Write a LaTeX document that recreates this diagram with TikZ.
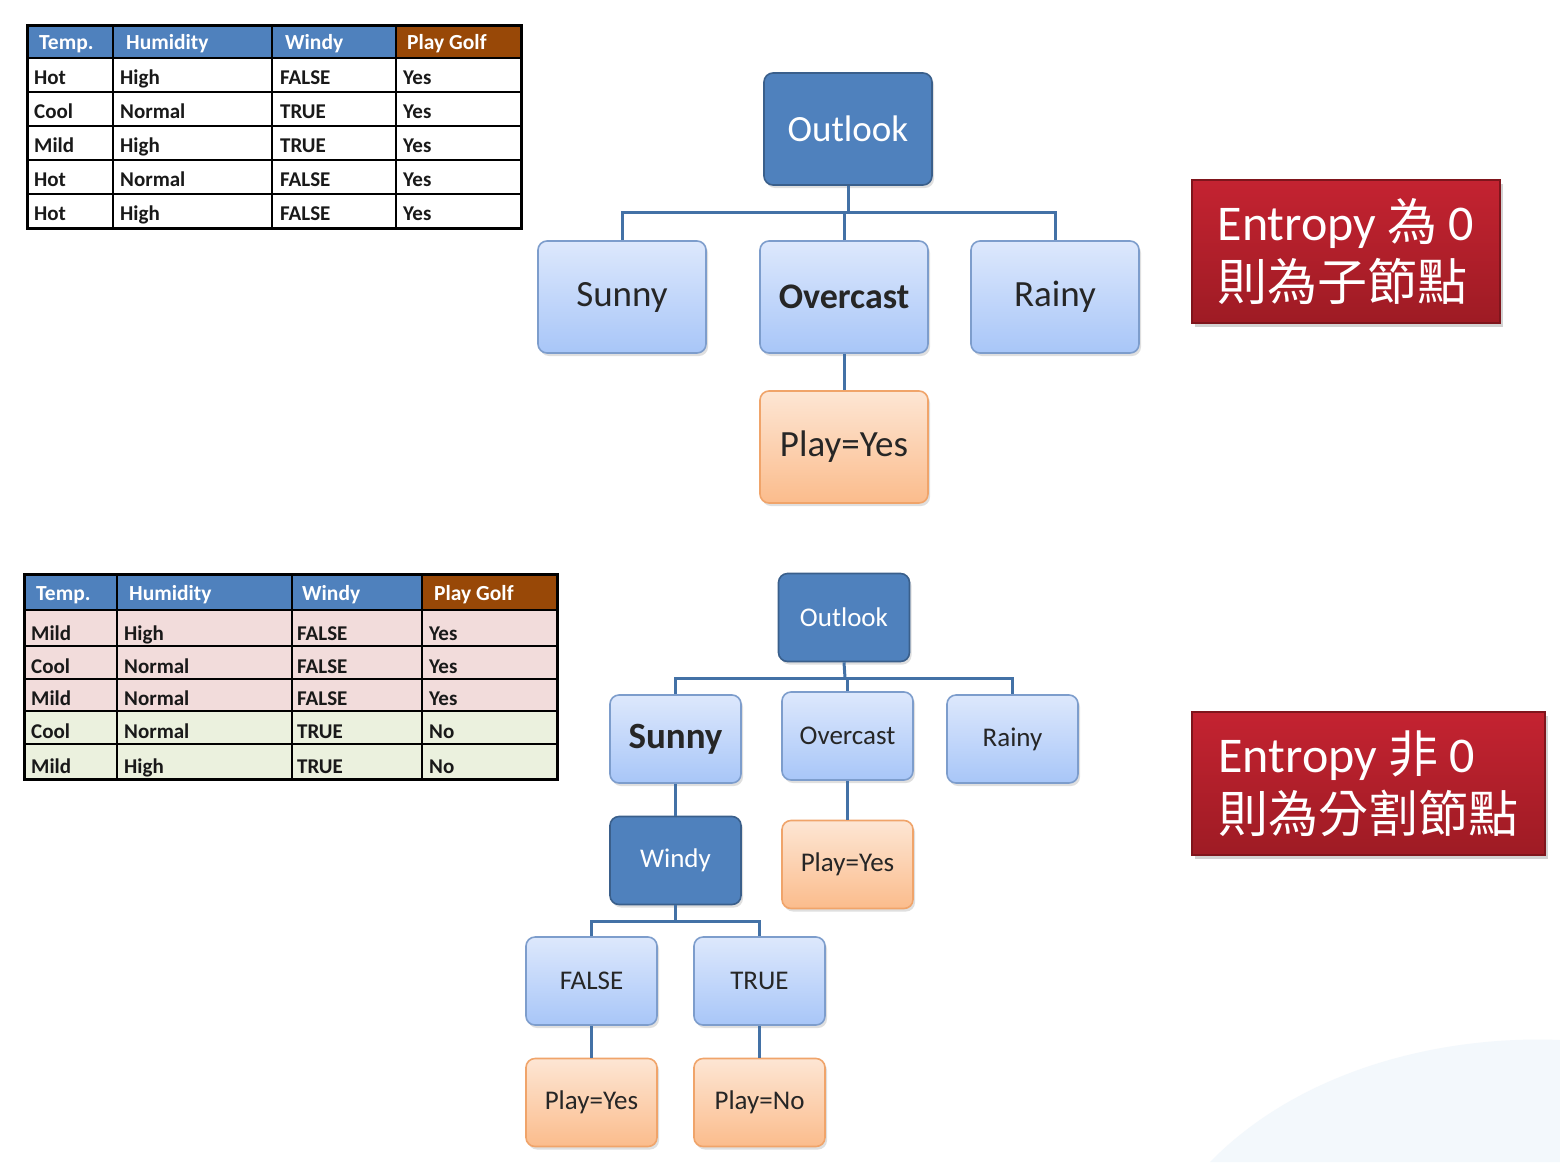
\documentclass[tikz,border=0pt]{standalone}
\usepackage{fontspec}
\setmainfont{Carlito}
\newfontfamily\cjk{Noto Sans CJK TC}
\usetikzlibrary{shadows,calc}
\definecolor{hdrblue}{HTML}{4F81BD}
\definecolor{hdrbrown}{HTML}{984807}
\definecolor{pinkrow}{HTML}{F2DCDB}
\definecolor{greenrow}{HTML}{EBF1DE}
\definecolor{darkfill}{HTML}{4F81BD}
\definecolor{darkedge}{HTML}{3A5F8B}
\definecolor{lighttop}{HTML}{DDE8FC}
\definecolor{lightbot}{HTML}{A8C6F8}
\definecolor{lightedge}{HTML}{7D9DCC}
\definecolor{orangetop}{HTML}{FDE6D4}
\definecolor{orangebot}{HTML}{FBBC8C}
\definecolor{orangeedge}{HTML}{F0A46A}
\definecolor{redtop}{HTML}{C42331}
\definecolor{redbot}{HTML}{9E1B24}
\definecolor{rededge}{HTML}{7F151C}
\definecolor{conncol}{HTML}{4371A6}
\definecolor{bgblue}{HTML}{F3F8FC}
\begin{document}
\begin{tikzpicture}[x=1pt,y=-1pt,
  boxbase/.style={rounded corners=9pt, line width=1.6pt, align=center,
    drop shadow={opacity=0.25, shadow xshift=2pt, shadow yshift=-3pt}},
  darkbox/.style={boxbase, fill=darkfill, draw=darkedge, text=white},
  lightbox/.style={boxbase, top color=lighttop, bottom color=lightbot, draw=lightedge, text=black!85},
  orangebox/.style={boxbase, top color=orangetop, bottom color=orangebot, draw=orangeedge, text=black!85},
  redbox/.style={line width=1.2pt, top color=redtop, bottom color=redbot, draw=rededge, text=white, align=left,
    drop shadow={opacity=0.35, shadow xshift=3pt, shadow yshift=-4pt},
    font=\fontsize{50}{60}\selectfont},
  bigsize/.style={minimum width=168, minimum height=112, font=\fontsize{37}{44}\selectfont},
  smallsize/.style={minimum width=131, minimum height=88, font=\fontsize{27}{32}\selectfont},
  conn/.style={draw=conncol, line width=3pt},
  tblline/.style={draw=black, line width=2.4pt},
  hdrtext/.style={anchor=base west, inner sep=0pt, text=white, font=\bfseries\fontsize{21.5}{25}\selectfont},
  celltext/.style={anchor=base west, inner sep=0pt, text=black!90, font=\bfseries\fontsize{21}{25}\selectfont}
]
\useasboundingbox (0,0) rectangle (1560,1162);
\fill[white] (0,0) rectangle (1560,1162);
\fill[bgblue] (1210,1162) .. controls (1300,1070) and (1440,1035) .. (1560,1040) -- (1560,1162) -- cycle;

% ---------- top table ----------
\fill[hdrblue] (27,25) rectangle (396,58);
\fill[hdrbrown] (396,25) rectangle (521,58);
\node[hdrtext] (ta-h1) at (39,49) {Temp.};
\node[hdrtext] (ta-h2) at (126,49) {Humidity};
\node[hdrtext] (ta-h3) at (285,49) {Windy};
\node[hdrtext] (ta-h4) at (407,49) {Play Golf};
\foreach [count=\r] \a/\b/\c/\d in {Hot/High/FALSE/Yes, Cool/Normal/TRUE/Yes, Mild/High/TRUE/Yes, Hot/Normal/FALSE/Yes, Hot/High/FALSE/Yes}{
  \pgfmathsetmacro{\yb}{58+34*\r-8}
  \node[celltext] (ta-\r-1) at (34,\yb) {\a};
  \node[celltext] (ta-\r-2) at (120,\yb) {\b};
  \node[celltext] (ta-\r-3) at (280,\yb) {\c};
  \node[celltext] (ta-\r-4) at (403,\yb) {\d};
}
\foreach \yy in {58,92,126,160,194} \draw[tblline] (27,\yy) -- (521,\yy);
\foreach \xx in {113,272,396} \draw[tblline] (\xx,25) -- (\xx,228);
\draw[tblline, line width=3pt] (27,25) rectangle (521,228);

% ---------- bottom table ----------
\fill[hdrblue] (24,574) rectangle (422,610);
\fill[hdrbrown] (422,574) rectangle (557,610);
\node[hdrtext] (tb-h1) at (36,600) {Temp.};
\node[hdrtext] (tb-h2) at (129,600) {Humidity};
\node[hdrtext] (tb-h3) at (302,600) {Windy};
\node[hdrtext] (tb-h4) at (434,600) {Play Golf};
\foreach [count=\r] \ta/\tb/\fc/\a/\b/\c/\d in {610/646/pinkrow/Mild/High/FALSE/Yes, 646/679/pinkrow/Cool/Normal/FALSE/Yes, 679/711/pinkrow/Mild/Normal/FALSE/Yes, 711/744/greenrow/Cool/Normal/TRUE/No, 744/779/greenrow/Mild/High/TRUE/No}{
  \fill[\fc] (24,\ta) rectangle (557,\tb);
  \pgfmathsetmacro{\yb}{\tb-6}
  \node[celltext] (tb-\r-1) at (31,\yb) {\a};
  \node[celltext] (tb-\r-2) at (124,\yb) {\b};
  \node[celltext] (tb-\r-3) at (297,\yb) {\c};
  \node[celltext] (tb-\r-4) at (429,\yb) {\d};
}
\foreach \yy in {610,646,679,711,744} \draw[tblline] (24,\yy) -- (557,\yy);
\foreach \xx in {117,292,422} \draw[tblline] (\xx,574) -- (\xx,779);
\draw[tblline, line width=3pt] (24,574) rectangle (557,779);

% ---------- top tree ----------
\node[darkbox, bigsize] (outlookA) at (848,129) {Outlook};
\node[lightbox, bigsize] (sunnyA) at (622,297) {Sunny};
\node[lightbox, bigsize, font=\bfseries\fontsize{36}{44}\selectfont] (overA) at (844,297) {Overcast};
\node[lightbox, bigsize] (rainyA) at (1055,297) {Rainy};
\node[orangebox, bigsize] (playA) at (844,447) {Play=Yes};
\coordinate (barA) at (848,212);
\draw[conn] (outlookA.south) -- (barA);
\draw[conn] (sunnyA.north) |- (barA) -| (rainyA.north);
\draw[conn] (overA.north) -- (overA.north |- barA);
\draw[conn] (overA.south) -- (playA.north);

% ---------- bottom tree ----------
\node[darkbox, smallsize] (outlookB) at (844,617.5) {Outlook};
\node[lightbox, smallsize, font=\bfseries\fontsize{37}{44}\selectfont] (sunnyB) at (675.5,739) {Sunny};
\node[lightbox, smallsize] (overB) at (847.5,736) {Overcast};
\node[lightbox, smallsize] (rainyB) at (1012.5,739) {Rainy};
\node[darkbox, smallsize] (windyB) at (675.5,860.5) {Windy};
\node[orangebox, smallsize] (playB1) at (847.5,864.5) {Play=Yes};
\node[lightbox, smallsize] (falseB) at (591.5,981) {FALSE};
\node[lightbox, smallsize] (trueB) at (759.5,981) {TRUE};
\node[orangebox, smallsize] (playB2) at (591.5,1102.5) {Play=Yes};
\node[orangebox, smallsize] (playB3) at (759.5,1102.5) {Play=No};
\coordinate (barB) at (845,678);
\draw[conn] (outlookB.south) -- (barB);
\draw[conn] (sunnyB.north) |- (barB) -| (rainyB.north);
\draw[conn] (overB.north) -- (overB.north |- barB);
\draw[conn] (sunnyB.south) -- (windyB.north);
\draw[conn] (overB.south) -- (playB1.north);
\coordinate (barW) at (675.5,921);
\draw[conn] (windyB.south) -- (barW);
\draw[conn] (falseB.north) |- (barW) -| (trueB.north);
\draw[conn] (falseB.south) -- (playB2.north);
\draw[conn] (trueB.south) -- (playB3.north);

% ---------- red notes ----------
\node[redbox, minimum width=308, minimum height=143] (noteA) at (1346,251.5)
  {Entropy {\cjk 為} 0\\{\cjk 則為子節點}};
\node[redbox, minimum width=353, minimum height=143] (noteB) at (1368.5,783.5)
  {Entropy {\cjk 非} 0\\{\cjk 則為分割節點}};
\end{tikzpicture}
\end{document}
